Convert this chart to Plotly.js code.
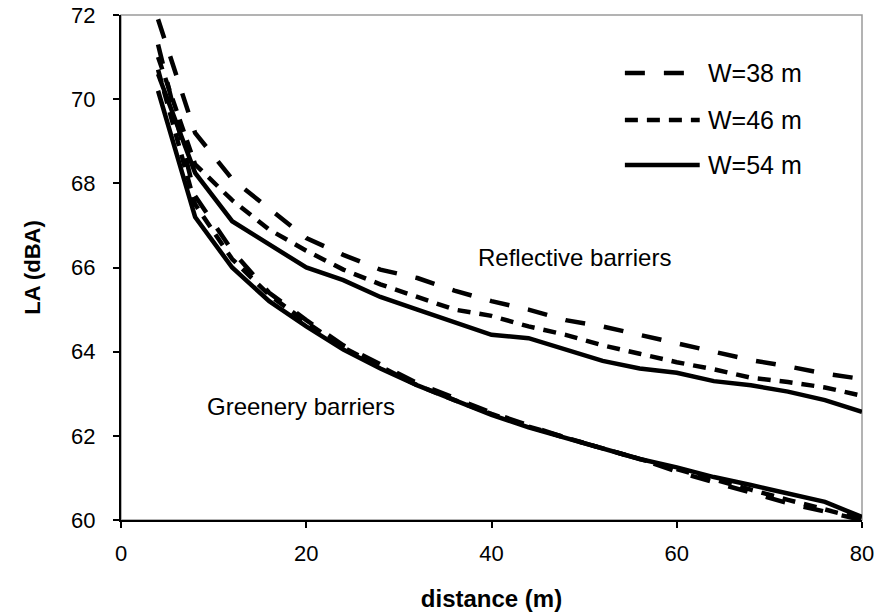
<!DOCTYPE html>
<html>
<head>
<meta charset="utf-8">
<script src="https://cdn.plot.ly/plotly-3.0.1.min.js"></script>
<style>html,body{margin:0;padding:0;background:#fff;}#chart{width:880px;height:616px;}</style>
</head>
<body>
<div id="chart"></div>
<script>
// distance (m)
const distance = [4, 8, 12, 16, 20, 24, 28, 32, 36, 40, 44, 48, 52, 56, 60, 64, 68, 72, 76, 80];

// Reflective barriers, LA (dBA)
const reflW38 = [71.9, 69.2, 68.1, 67.4, 66.7, 66.3, 65.95, 65.75, 65.45, 65.2, 65.0, 64.75, 64.6, 64.4, 64.2, 64.0, 63.8, 63.65, 63.48, 63.35];
const reflW46 = [71.0, 68.45, 67.6, 66.9, 66.4, 65.95, 65.6, 65.3, 65.0, 64.85, 64.6, 64.4, 64.15, 63.95, 63.75, 63.58, 63.38, 63.28, 63.15, 62.95];
const reflW54 = [70.6, 68.25, 67.1, 66.55, 66.0, 65.7, 65.3, 65.0, 64.7, 64.4, 64.32, 64.05, 63.78, 63.6, 63.5, 63.3, 63.2, 63.05, 62.85, 62.57];

// Greenery barriers, LA (dBA)
const greenW38 = [71.3, 67.7, 66.4, 65.4, 64.75, 64.15, 63.7, 63.25, 62.9, 62.55, 62.25, 61.95, 61.7, 61.45, 61.15, 60.9, 60.65, 60.4, 60.2, 60.0];
const greenW46 = [70.7, 67.5, 66.2, 65.35, 64.7, 64.1, 63.65, 63.2, 62.85, 62.52, 62.22, 61.95, 61.7, 61.45, 61.2, 60.95, 60.72, 60.48, 60.25, 60.02];
const greenW54 = [70.2, 67.2, 66.0, 65.2, 64.6, 64.05, 63.6, 63.2, 62.85, 62.5, 62.2, 61.95, 61.7, 61.45, 61.25, 61.02, 60.83, 60.64, 60.43, 60.07];

const seriesNames = ["W=38 m", "W=46 m", "W=54 m"];
const groupLabels = ["Reflective barriers", "Greenery barriers"];
const xTicks = [0, 20, 40, 60, 80];
const yTicks = [60, 62, 64, 66, 68, 70, 72];

const dashes = ["20px,19px", "13px,9px", "solid"];
const FONT = "Liberation Sans, Arial, sans-serif";

const refl = [reflW38, reflW46, reflW54];
const green = [greenW38, greenW46, greenW54];
const traces = [];
[refl, green].forEach((set, gi) => {
  set.forEach((vals, i) => {
    traces.push({
      x: distance, y: vals, type: "scatter", mode: "lines",
      name: seriesNames[i] + (gi ? " (greenery)" : " (reflective)"),
      line: {color: "#000", width: 4.5, dash: dashes[i]},
      showlegend: false, hoverinfo: "x+y"
    });
  });
});

const shapes = [
  {type: "rect", xref: "paper", yref: "paper", x0: 0, x1: 1, y0: 0, y1: 1,
   line: {color: "#9a9a9a", width: 1.5}, layer: "below"}
];
const annotations = [];
const legY = [0.885, 0.792, 0.703];
seriesNames.forEach((n, i) => {
  shapes.push({type: "line", xref: "paper", yref: "paper", x0: 0.680, x1: 0.781, y0: legY[i], y1: legY[i],
    line: {color: "#000", width: 4.5, dash: dashes[i]}});
  annotations.push({xref: "paper", yref: "paper", x: 0.789, y: legY[i], xanchor: "left", yanchor: "middle",
    text: n, showarrow: false, font: {family: FONT, size: 25, color: "#000"}});
});
annotations.push({xref: "x", yref: "y", x: 38.3, y: 66.23, xanchor: "left", yanchor: "middle",
  text: groupLabels[0], showarrow: false, font: {family: FONT, size: 24, color: "#000"}});
annotations.push({xref: "x", yref: "y", x: 9.1, y: 62.69, xanchor: "left", yanchor: "middle",
  text: groupLabels[1], showarrow: false, font: {family: FONT, size: 24, color: "#000"}});

const layout = {
  width: 880, height: 616,
  margin: {l: 121, r: 18, t: 15, b: 96},
  paper_bgcolor: "#fff", plot_bgcolor: "#fff",
  font: {family: FONT, size: 22, color: "#000"},
  showlegend: false,
  xaxis: {
    range: [0, 80], tickvals: xTicks, ticktext: xTicks.map(String),
    showgrid: false, zeroline: false, showline: true, linecolor: "#000", linewidth: 2,
    ticks: "outside", ticklen: 6, tickwidth: 2, tickcolor: "#000", ticklabelstandoff: 7,
    tickfont: {family: FONT, size: 22, color: "#000"},
    title: {text: "<b>distance (m)</b>", font: {family: FONT, size: 24, color: "#000"}, standoff: 25}
  },
  yaxis: {
    range: [60, 72], tickvals: yTicks, ticktext: yTicks.map(String),
    showgrid: false, zeroline: false, showline: true, linecolor: "#000", linewidth: 2,
    ticks: "outside", ticklen: 6, tickwidth: 2, tickcolor: "#000", ticklabelstandoff: 13,
    tickfont: {family: FONT, size: 22, color: "#000"},
    title: {text: "<b>LA (dBA)</b>", font: {family: FONT, size: 22, color: "#000"}, standoff: 24}
  },
  shapes: shapes,
  annotations: annotations
};

Plotly.newPlot("chart", traces, layout, {displayModeBar: false, staticPlot: true});
</script>
</body>
</html>
